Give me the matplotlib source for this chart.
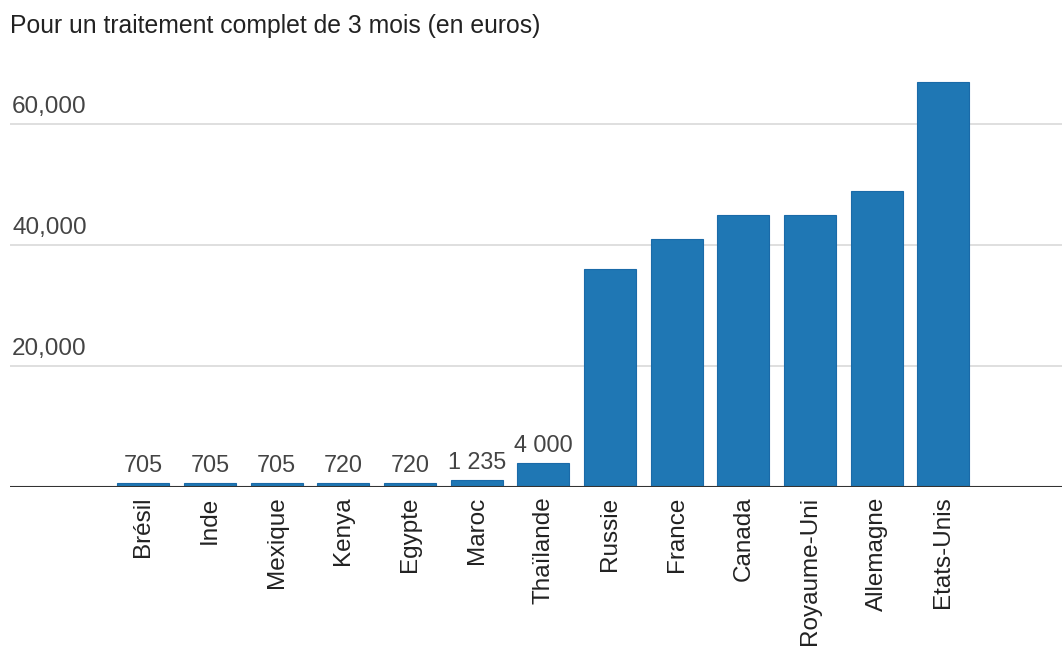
import matplotlib.pyplot as plt
from matplotlib.transforms import offset_copy

# countries and price of a full 3-month treatment (euros)
countries = ["Brésil", "Inde", "Mexique", "Kenya", "Egypte", "Maroc", "Thaïlande",
             "Russie", "France", "Canada", "Royaume-Uni", "Allemagne", "Etats-Unis"]
prices = [705, 705, 705, 720, 720, 1235, 4000,
          36000, 41000, 45000, 45000, 49000, 67000]
# only the small bars get a value label
value_labels = ["705", "705", "705", "720", "720", "1 235", "4 000"]
y_ticks = [20000, 40000, 60000]
y_tick_labels = ["20,000", "40,000", "60,000"]

plt.rcParams['font.family'] = ['Liberation Sans', 'DejaVu Sans']

fig = plt.figure(figsize=(10.62, 6.46), dpi=100)
ax = fig.add_axes([10 / 1062, 1 - 487 / 646, 1052 / 1062, 423.5 / 646])

x = list(range(len(countries)))
bars = ax.bar(x, prices, width=0.78, color="#1f77b4", edgecolor="#1a6aa8", linewidth=0.8, zorder=2)

ax.set_xlim(-2.0, len(countries) - 1 + 1.78)
ax.set_ylim(0, 70000)

# light horizontal gridlines
for t in y_ticks:
    ax.axhline(t, color="#d9d9d9", linewidth=1.2, zorder=1)
ax.axhline(0, color="#333333", linewidth=1.5, zorder=3)

# y labels sit inside the plot, above the gridlines
trans = offset_copy(ax.get_yaxis_transform(), fig=fig, x=0, y=4.5, units="points")
for t, lab in zip(y_ticks, y_tick_labels):
    ax.text(0.002, t, lab, transform=trans, ha="left", va="bottom", fontsize=17.5, color="#444444")

# values above the small bars
for b, lab in zip(bars, value_labels):
    ax.annotate(lab, (b.get_x() + b.get_width() / 2, b.get_height()), xytext=(0, 4),
                textcoords="offset points", ha="center", va="bottom", fontsize=16.8, color="#444444")

ax.set_xticks(x)
ax.set_xticklabels(countries, rotation=90, fontsize=17.5, color="#222222")
ax.tick_params(axis="x", length=0, pad=7)
ax.set_yticks([])
for s in ax.spines.values():
    s.set_visible(False)

fig.text(10 / 1062, 1 - 26 / 646, "Pour un traitement complet de 3 mois (en euros)",
         ha="left", va="center", fontsize=17.8, color="#222222")

fig.savefig("out.png", dpi=100)
